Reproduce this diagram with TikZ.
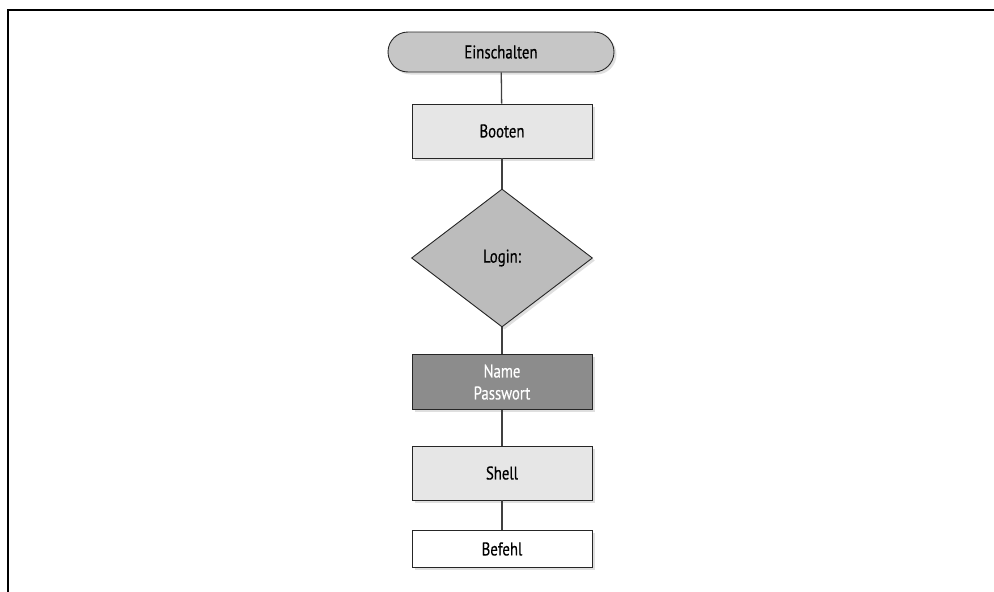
\documentclass[tikz,border=0pt]{standalone}
\usepackage{fontspec}
\setmainfont{PT Sans}[FakeStretch=0.8,UprightFeatures={FakeBold=0.35}]
\usetikzlibrary{shapes.geometric,shadows}
\definecolor{boxlight}{HTML}{E6E6E6}
\definecolor{boxmid}{HTML}{C6C6C6}
\definecolor{boxdark}{HTML}{8C8C8C}
\tikzset{
  flow/.style={draw=black!85, line width=0.9pt, font=\fontsize{18.5}{22}\selectfont,
    drop shadow={shadow xshift=2.5pt, shadow yshift=-2.5pt, opacity=0.25}},
  startbox/.style={flow, fill=boxmid, rounded corners=20pt, minimum width=226pt, minimum height=40pt},
  stepbox/.style={flow, fill=boxlight, minimum width=180pt, minimum height=54pt},
  askbox/.style={flow, diamond, fill=boxmid!95!black, minimum width=181pt, minimum height=138pt, inner sep=0pt},
  inputbox/.style={flow, fill=boxdark, text=white, align=center, minimum width=180pt, minimum height=55pt},
  endbox/.style={flow, fill=white, minimum width=180pt, minimum height=37pt}
}
\begin{document}
\begin{tikzpicture}[x=1pt,y=-1pt]
      \useasboundingbox (0,0) rectangle (994,592);
      \draw[line width=2pt] (8,592) -- (8,10) -- (994,10);
      \draw
        (501,52) node[startbox] (ein){Einschalten}
        (502,131) node[stepbox] (boot){Booten}
        (502,258) node[askbox] (login){Login:}
        (502,382) node[inputbox] (name){Name\\Passwort}
        (502,473) node[stepbox] (shell){Shell}
        (502,549) node[endbox] (befehl){Befehl};
      \begin{scope}[-, draw=black!75, line width=1.3pt]
        \draw (ein) to (boot);
        \draw (boot) to (login);
        \draw (login) to (name);
        \draw (name) to (shell);
        \draw (shell) to (befehl);
      \end{scope}
    \end{tikzpicture}
\end{document}
